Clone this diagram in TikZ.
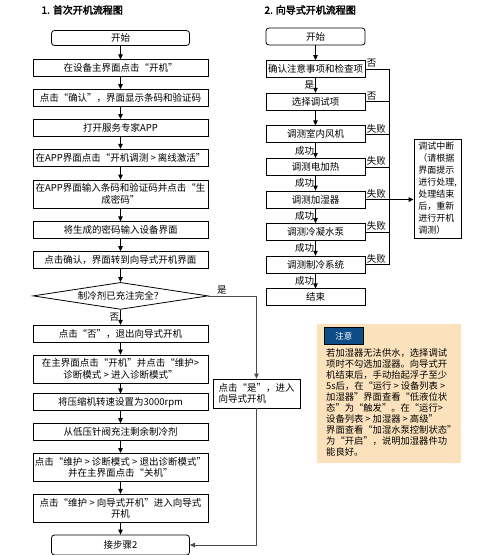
\documentclass[tikz,border=0pt]{standalone}
\usepackage{fontspec}
\setmainfont{Noto Sans CJK SC}[AutoFakeBold=2.5]
\usetikzlibrary{arrows.meta, positioning, shapes.geometric}
\definecolor{notefill}{HTML}{FBE2BC}
\definecolor{noteblue}{HTML}{0D4C87}

\begin{document}
\begin{tikzpicture}[x=1pt, y=-1pt, >={Triangle[length=5pt, width=4.5pt]},
    font=\fontsize{9.5}{11.5}\selectfont,
    stepbox/.style={draw, line width=0.8pt, fill=white, minimum width=175pt,
                    minimum height=17pt, inner sep=1pt, align=center},
    twobox/.style={stepbox, minimum height=28pt},
    startbox/.style={stepbox, rounded corners=3pt, minimum width=138pt},
    rbox/.style={stepbox, minimum width=99pt},
    decision/.style={draw, diamond, line width=0.8pt, shape aspect=6.5,
                     minimum width=175pt, minimum height=27pt, inner sep=0pt},
    lbl/.style={font=\fontsize{9.5}{10}\selectfont, inner sep=1pt}]
  \useasboundingbox (0,0) rectangle (484,555);

  % titles
  \node[anchor=west, font=\fontsize{10}{12}\selectfont\bfseries] (t1) at (38,10)
    {1. 首次开机流程图};
  \node[anchor=west, font=\fontsize{10}{12}\selectfont\bfseries] (t2) at (261,10)
    {2. 向导式开机流程图};

  % 1. first start
  \node[startbox, minimum height=15pt] (st) at (120.5,38) {开始};
  \node[stepbox, below=13.5pt of st] (kj) {在设备主界面点击“开机”};
  \node[stepbox, below=12pt of kj] (qr) {点击“确认”，界面显示条码和验证码};
  \node[stepbox, below=12pt of qr] (app) {打开服务专家APP};
  \node[stepbox, below=12pt of app] (lx) {在APP界面点击“开机调测 > 离线激活”};
  \node[twobox, below=13pt of lx] (sc)
    {在APP界面输入条码和验证码并点击“生\\成密码”};
  \node[stepbox, below=13pt of sc] (sr) {将生成的密码输入设备界面};
  \node[stepbox, below=12pt of sr] (zd) {点击确认，界面转到向导式开机界面};
  \node[decision, below=13pt of zd] (lq) {制冷剂已充注完全？};
  \node[stepbox, below=15pt of lq] (fou) {点击“否”，退出向导式开机};
  \node[twobox, below=12pt of fou] (wh)
    {在主界面点击“开机”并点击“维护>\\诊断模式 > 进入诊断模式”};
  \node[stepbox, below=10pt of wh] (ys) {将压缩机转速设置为3000rpm};
  \node[stepbox, below=12pt of ys] (cz) {从低压针阀充注剩余制冷剂};
  \node[twobox, below=12pt of cz] (gj)
    {点击“维护 > 诊断模式 > 退出诊断模式”\\并在主界面点击“关机”};
  \node[twobox, below=12pt of gj] (xd)
    {点击“维护 > 向导式开机”进入向导式\\开机};
  \node[startbox, minimum height=20pt, below=12pt of xd] (nx) {接步骤2};
  \node[stepbox, minimum width=87pt, minimum height=29pt, align=left,
        inner sep=4pt] (yes) at (256.5,393.5) {点击“是”，进入\\向导式开机};

  \foreach \a/\b in {st/kj, kj/qr, qr/app, app/lx, lx/sc, sc/sr, sr/zd, zd/lq,
                     fou/wh, wh/ys, ys/cz, cz/gj, gj/xd, xd/nx}
    \draw[->, line width=0.8pt] (\a) -- (\b);
  \draw[->, line width=0.8pt] (lq) -- node[lbl, left] {否} (fou);
  \draw[->, line width=0.8pt, black!70] (lq.east) -|
    node[lbl, pos=0.14, above, black] {是} (yes.north);
  \draw[->, line width=0.8pt, black!70] (yes.south) |- (nx.east);

  % 2. guided start
  \node[startbox, minimum width=99pt] (st2) at (315.5,36.5) {开始};
  \node[rbox, below=14.8pt of st2] (jc) {确认注意事项和检查项};
  \node[rbox, below=14.8pt of jc] (xz) {选择调试项};
  \node[rbox, below=14.8pt of xz] (fj) {调测室内风机};
  \node[rbox, below=14.8pt of fj] (dj) {调测电加热};
  \node[rbox, below=14.8pt of dj] (js) {调测加湿器};
  \node[rbox, below=14.8pt of js] (ls) {调测冷凝水泵};
  \node[rbox, below=14.8pt of ls] (zl) {调测制冷系统};
  \node[rbox, below=14.8pt of zl] (end2) {结束};
  \node[draw, line width=0.8pt, minimum width=47pt, minimum height=99pt,
        align=left, inner sep=2pt, font=\fontsize{9}{12}\selectfont] (fb)
    at (437.5,188.5)
    {调试中断\\（请根据\\界面提示\\进行处理,\\处理结束\\后，重新\\进行开机\\调测）};

  \draw[->, line width=0.8pt] (st2) -- (jc);
  \draw[->, line width=0.8pt] (jc) -- node[lbl, left] {是} (xz);
  \draw[->, line width=0.8pt] (xz) -- (fj);
  \foreach \a/\b in {fj/dj, dj/js, js/ls, ls/zl, zl/end2}
    \draw[->, line width=0.8pt] (\a) -- node[lbl, left] {成功} (\b);

  \coordinate (bus) at (389,0);
  \foreach \n/\t in {jc/否, xz/否, fj/失败, dj/失败, js/失败, ls/失败, zl/失败}
    \draw[line width=0.8pt] (\n.east) --
      node[lbl, pos=0, above right] {\t} (\n.east -| bus);
  \draw[line width=0.8pt] (jc.east -| bus) -- (zl.east -| bus);
  \draw[->, line width=1.3pt] (js.east -| bus) -- (js.east -| fb.west);

  % note
  \node[fill=notefill, minimum width=144pt, minimum height=139pt] (note)
    at (389,393.5) {};
  \node[fill=noteblue, draw=black, line width=0.6pt, text=white,
        minimum width=39pt, minimum height=17pt, inner sep=0pt,
        anchor=north west, font=\fontsize{8.5}{10}\selectfont] (zy)
    at (324,327) {注意};
  \node[anchor=north west, align=left, inner sep=0pt,
        font=\fontsize{9.3}{11.1}\selectfont] (ntxt) at (326,348)
    {若加湿器无法供水，选择调试\\项时不勾选加湿器。向导式开\\
     机结束后，手动抬起浮子至少\\5s后，在“运行 > 设备列表 >\\
     加湿器”界面查看“低液位状\\态”为“触发”。在“运行>\\
     设备列表 > 加湿器 > 高级”\\界面查看“加湿水泵控制状态”\\
     为“开启”，说明加湿器件功\\能良好。};
\end{tikzpicture}
\end{document}
